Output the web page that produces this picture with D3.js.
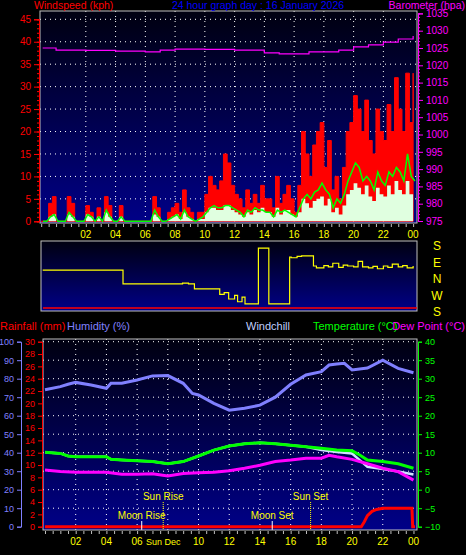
<!DOCTYPE html>
<html><head><meta charset="utf-8">
<script src="https://cdn.jsdelivr.net/npm/d3@7"></script>
<style>body{margin:0;background:#000}svg{display:block}text{font-family:"Liberation Sans",Arial,sans-serif}</style>
</head><body>
<script>
// ---------- DATA ----------
const hourLabels = ["02","04","06","08","10","12","14","16","18","20","22","00"];
const hourTicks = [2,4,6,8,10,12,14,16,18,20,22,24];
const windStart = -1, windStep = 0.25;
const windGust = [
 0,0,4,5.5, 0,0,0,5.5, 4,0,0,0, 3.5,2,0,3, 0,5.5,3.5,0, 0,3.5,0,0, 0,0,0,0, 0,0,5.5,3, 0,0,2,3,
 4,2,7,3, 2,0,2,2, 6,10,8,7, 9,15,13,8, 6,5,3,7, 4,6,4,8, 5,5,3,10, 4,6,8,5, 2,8,20,15,
 10,17,20,22, 12,18,7,10, 5,12,20,22, 28,25,20,27, 18,15,25,20, 18,26,20,32, 25,20,33,22, 33];
const windAvg = [
 0,0,1,1.5, 0,0,0,1.5, 1,0,0,0, 1.5,1,0,1, 0,2,1,0, 0,1,0,0, 0,0,0,0, 0,0,1.5,1, 0,0,0.5,1,
 1.5,0.5,2,1, 0.5,0,0.5,0.5, 2,3,3,2.5, 2.5,3.5,3.5,2.5, 2,1.5,1,2, 1.5,2.5,2,3, 2,2,1,3, 1.5,2.5,2.5,1.5, 1,2,5,4,
 3,4.5,5,5.5, 3.5,5,2,3, 1.5,3.5,6,7, 8.5,7.5,6,8, 5.5,4.5,7.5,6, 5.5,8,6,9, 7,6,9,6, 8];
const windMean = [
 0,0,1,1.5, 0,0,0,2, 1,0,0,0, 1.5,1,0,1, 0,2.5,1,0, 0,1,0,0, 0,0,0,0, 0,0,2.5,1, 0,0,0.5,1,
 1.5,0.5,2.5,1, 0.5,0,0.5,1, 2,3,3.5,3, 3,3.5,3.5,3, 2.5,2,1,2.5, 2,3,2.5,2.5, 2,2,1,2.5, 2,2.5,2,1.5, 1,3,5,6,
 5,6.5,7,8.5, 7,6,3,5, 4,6,9,11, 13,12,9,10, 9,7,11,9, 8,11,10,12, 11,9,15,10, 9];
const baroHours = [-0.9,0,2,4,6,7,8,10,12,14,15,16,17,18,19,20,21,22,23,24];
const baroValues = [1025.0,1024.4,1024.3,1024.1,1023.9,1024.4,1024.7,1024.6,1024.4,1023.6,1023.3,1023.3,1023.9,1023.9,1024.4,1025.3,1025.9,1026.7,1027.6,1028.5];
const dirHours = [-0.9,4.5,8.5,8.9,9.3,11,11.3,11.6,12,12.2,12.5,12.7,13.6,14.3,15.7,15.8,16.2,16.5,17.3,17.5,18,18.3,18.6,19,19.3,19.6,20,20.3,20.6,21,21.3,21.6,22,22.3,22.6,23,23.3,23.6,24];
const dirValues = [38,-38,-33,-38,-65,-95,-85,-120,-100,-135,-110,-147,158,-147,109,105,112,115,60,50,62,55,75,52,65,60,55,85,55,50,58,45,60,52,70,55,62,50,60];
const dirLabels = ["S","E","N","W","S"];
const dayHours = [0,1,1.5,2,3,4,4.3,5,6,7,8,9,9.6,10,11,12,13,14,15,16,17,18,18.5,19,19.5,20,21,22,23,24];
const humidity = [74,75.7,77,78,76.6,74.8,77.5,77.5,79.3,81.5,81.7,77.5,72,71.2,66.7,63,64,65.7,70,77,82,83.8,87.4,87.9,88.3,84.7,85.8,90,85.6,83.2];
const tHours = [0,1,1.5,2,3,4,4.3,5,6,7,8,9,10,11,12,13,14,15,16,17,18,19,20,20.5,21,22,23,24];
const temperature = [10.1,9.8,9.1,8.9,8.9,8.9,8.2,8.0,7.8,7.6,7.0,7.6,9.1,10.7,11.8,12.4,12.7,12.4,12.0,11.6,11.2,10.7,10.5,9.4,8.0,7.6,7.0,5.8];
const windchill = [10.1,9.8,9.1,8.9,8.9,8.9,8.2,8.0,7.8,7.6,7.0,7.6,9.1,10.7,11.8,12.4,12.7,12.4,12.0,11.6,10.7,10.2,9.8,8.0,6.2,5.6,4.9,4.1];
const dewHours = [0,1,2,4,5,6,7,8,9,10,11,12,13,14,15,16,17,18,18.5,19,20,21,22,23,24];
const dewPoint = [5.3,4.9,4.7,4.7,4.2,4.2,4.3,3.7,4.4,4.6,4.7,5.1,5.8,6.6,7.6,8.0,8.5,8.5,9.3,8.9,8.2,7.0,5.8,4.9,2.6];
const rainHours = [0,20.6,20.8,21.0,21.3,21.6,22.0,23.9,23.95,24.1];
const rainValues = [0,0,0.8,1.8,2.5,2.8,3.0,3.0,0,0];
const astro = [{name:"Moon Rise",h:6.3,type:"moon"},{name:"Sun Rise",h:7.7,type:"sun"},{name:"Moon Set",h:14.8,type:"moon"},{name:"Sun Set",h:17.3,type:"sun"}];

// ---------- DRAW ----------
const W=466,H=555;
const svg=d3.select("body").append("svg").attr("width",W).attr("height",H);
const defs=svg.append("defs");
const g=defs.append("linearGradient").attr("id","bg").attr("x1",0).attr("y1",0).attr("x2",0).attr("y2",1);
g.append("stop").attr("offset","0%").attr("stop-color","#000010");
g.append("stop").attr("offset","100%").attr("stop-color","#000088");
const FF="Liberation Sans";
const yel="#ffff00", red="#ff0000", mag="#ff00ff", grn="#00ff00", hum="#8080ff";
function txt(x,y,s,c,anchor,size){return svg.append("text").attr("x",x).attr("y",y).attr("fill",c).attr("font-size",size||11).attr("text-anchor",anchor||"start").text(s);}
function styleAxis(a,c,fs){a.selectAll("path,line").attr("stroke",c);a.selectAll("text").attr("fill",c).attr("font-size",fs).attr("font-family",FF);}

// top panel
const T={l:40,r:417,t:11,b:223};
const xT=d3.scaleLinear().domain([-1.08,24.26]).range([T.l,T.r]);
const yW=d3.scaleLinear().domain([0,45]).range([221.3,19.3]);
const yP=d3.scaleLinear().domain([975,1035]).range([221,13.4]);
svg.append("rect").attr("x",T.l).attr("y",T.t).attr("width",T.r-T.l).attr("height",T.b-T.t).attr("fill","url(#bg)");
const grid=svg.append("g").attr("stroke","#fff").attr("stroke-dasharray","1,4").attr("stroke-width",1);
d3.range(5,46,5).forEach(v=>grid.append("line").attr("x1",T.l).attr("x2",T.r).attr("y1",yW(v)).attr("y2",yW(v)));
hourTicks.slice(0,11).forEach(h=>grid.append("line").attr("x1",xT(h)).attr("x2",xT(h)).attr("y1",T.t).attr("y2",T.b));

const wt=windGust.map((_,i)=>windStart+i*windStep);
const area=(arr)=>d3.area().x((d,i)=>xT(wt[i])).y0(yW(0)).y1(d=>yW(d)).curve(d3.curveStepAfter)(arr);
svg.append("path").attr("d",area(windGust)).attr("fill",red).attr("stroke",red).attr("stroke-width",1);
svg.append("path").attr("d",area(windAvg)).attr("fill","#e0ffe0");
svg.append("path").attr("d",d3.line().x((d,i)=>xT(wt[i]+0.125)).y(d=>yW(d))(windMean)).attr("fill","none").attr("stroke",grn).attr("stroke-width",1.5);
svg.append("path").attr("d",d3.line().x((d,i)=>xT(baroHours[i])).y(d=>yP(d)).curve(d3.curveStepAfter)(baroValues)).attr("fill","none").attr("stroke",mag).attr("stroke-width",1.2);
svg.append("rect").attr("x",T.l).attr("y",T.t).attr("width",T.r-T.l).attr("height",T.b-T.t).attr("fill","none").attr("stroke","#c0c0c0");

styleAxis(svg.append("g").attr("transform",`translate(${T.l-1},0)`).call(d3.axisLeft(yW).tickValues(d3.range(0,46,5)).tickSize(5).tickFormat(d3.format("d"))),red,10);
styleAxis(svg.append("g").attr("transform",`translate(${T.l-1},0)`).call(d3.axisLeft(yW).tickValues(d3.range(0,46,1)).tickSize(2).tickFormat("")),red,10);
styleAxis(svg.append("g").attr("transform",`translate(${T.r+1},0)`).call(d3.axisRight(yP).tickValues(d3.range(975,1036,5)).tickSize(5).tickFormat(d3.format("d"))),mag,10);
styleAxis(svg.append("g").attr("transform",`translate(${T.r+1},0)`).call(d3.axisRight(yP).tickValues(d3.range(975,1036,1)).tickSize(2).tickFormat("")),mag,10);
const axT=svg.append("g").attr("transform",`translate(0,${T.b+1})`).call(d3.axisBottom(xT).tickValues(d3.range(-1,24.3,0.5)).tickSize(3).tickFormat(""));
axT.selectAll("path").remove();axT.selectAll("line").attr("stroke","#c0c0c0");
hourTicks.forEach((h,i)=>txt(xT(h),238,hourLabels[i],yel,"middle",10));

txt(34,9,"Windspeed (kph)",red,"start",10.5);
txt(258,9,"24 hour graph day : 16 January 2026","#0000ff","middle",10.5);
txt(465,9,"Barometer (hpa)",mag,"end",10.5);

// direction panel
const D={t:241,b:311};
const yD=d3.scaleLinear().domain([-180,180]).range([310,244]);
svg.append("rect").attr("x",T.l+1).attr("y",D.t).attr("width",T.r-T.l-1).attr("height",D.b-D.t).attr("fill","url(#bg)").attr("stroke","#c0c0c0");
svg.append("line").attr("x1",T.l+3).attr("x2",T.r).attr("y1",308).attr("y2",308).attr("stroke",red).attr("stroke-width",1.5);
svg.append("path").attr("d",d3.line().x((d,i)=>xT(dirHours[i])).y(d=>yD(d)).curve(d3.curveStepAfter)(dirValues)).attr("fill","none").attr("stroke",yel).attr("stroke-width",1.2);
dirLabels.forEach((s,i)=>txt(437,250+i*16.5,s,yel,"middle",12));

// bottom panel
const B={l:43,r:417,t:339,b:530};
const xB=d3.scaleLinear().domain([-0.13,24.23]).range([B.l,B.r]);
const yH=d3.scaleLinear().domain([0,100]).range([526.7,341.7]);
const yR=d3.scaleLinear().domain([0,30]).range([526.7,341.7]);
const yTp=d3.scaleLinear().domain([-10,40]).range([526.7,341.7]);
svg.append("rect").attr("x",B.l).attr("y",B.t).attr("width",B.r-B.l).attr("height",B.b-B.t).attr("fill","url(#bg)");
const g2=svg.append("g").attr("stroke","#fff").attr("stroke-dasharray","1,4");
d3.range(-5,41,5).forEach(v=>g2.append("line").attr("x1",B.l).attr("x2",B.r).attr("y1",yTp(v)).attr("y2",yTp(v)));
hourTicks.slice(0,11).forEach(h=>g2.append("line").attr("x1",xB(h)).attr("x2",xB(h)).attr("y1",B.t).attr("y2",B.b));
const ln=(xs,ys,sc,c,w)=>svg.append("path").attr("d",d3.line().x((d,i)=>xB(xs[i])).y(d=>sc(d))(ys)).attr("fill","none").attr("stroke",c).attr("stroke-width",w);
ln(dayHours,humidity,yH,hum,3);
ln(tHours,windchill,yTp,"#d0e0ff",2.5);
ln(tHours,temperature,yTp,grn,3);
ln(dewHours,dewPoint,yTp,mag,3);
ln(rainHours,rainValues,yR,red,3);
astro.forEach(a=>{
  const x=xB(a.h), sun=a.type==="sun";
  svg.append("line").attr("x1",x).attr("x2",x).attr("y1",sun?502:521).attr("y2",B.b).attr("stroke",sun?yel:"#fff").attr("stroke-dasharray",sun?"1,1":null);
  txt(x,sun?500:519,a.name,yel,"middle",10);
});
svg.append("rect").attr("x",B.l).attr("y",B.t).attr("width",B.r-B.l).attr("height",B.b-B.t).attr("fill","none").attr("stroke","#c0c0c0");
const axB=svg.append("g").attr("transform",`translate(0,${B.b+1})`).call(d3.axisBottom(xB).tickValues(d3.range(0,24.3,0.5)).tickSize(3).tickFormat(""));
axB.selectAll("path").remove();axB.selectAll("line").attr("stroke","#c0c0c0");
hourTicks.filter(h=>h!==8).forEach(h=>txt(xB(h),545,hourLabels[hourTicks.indexOf(h)],yel,"middle",10));
txt(xB(7.7),545,"Sun Dec",yel,"middle",9);

styleAxis(svg.append("g").attr("transform","translate(21,0)").call(d3.axisLeft(yH).tickValues(d3.range(0,101,10)).tickSize(4)),hum,9);
styleAxis(svg.append("g").attr("transform","translate(42,0)").call(d3.axisLeft(yR).tickValues(d3.range(0,31,2)).tickSize(4)),red,9);
styleAxis(svg.append("g").attr("transform",`translate(${B.r+1},0)`).call(d3.axisRight(yTp).tickValues(d3.range(-10,41,5)).tickSize(4)),grn,9);

txt(0,330,"Rainfall (mm)",red,"start",11);
txt(67,330,"Humidity (%)",hum,"start",11);
txt(246,330,"Windchill","#c0d0ff","start",11);
txt(313,330,"Temperature (°C)",grn,"start",11);
txt(465,330,"Dew Point (°C)",mag,"end",11);
</script>
</body></html>
